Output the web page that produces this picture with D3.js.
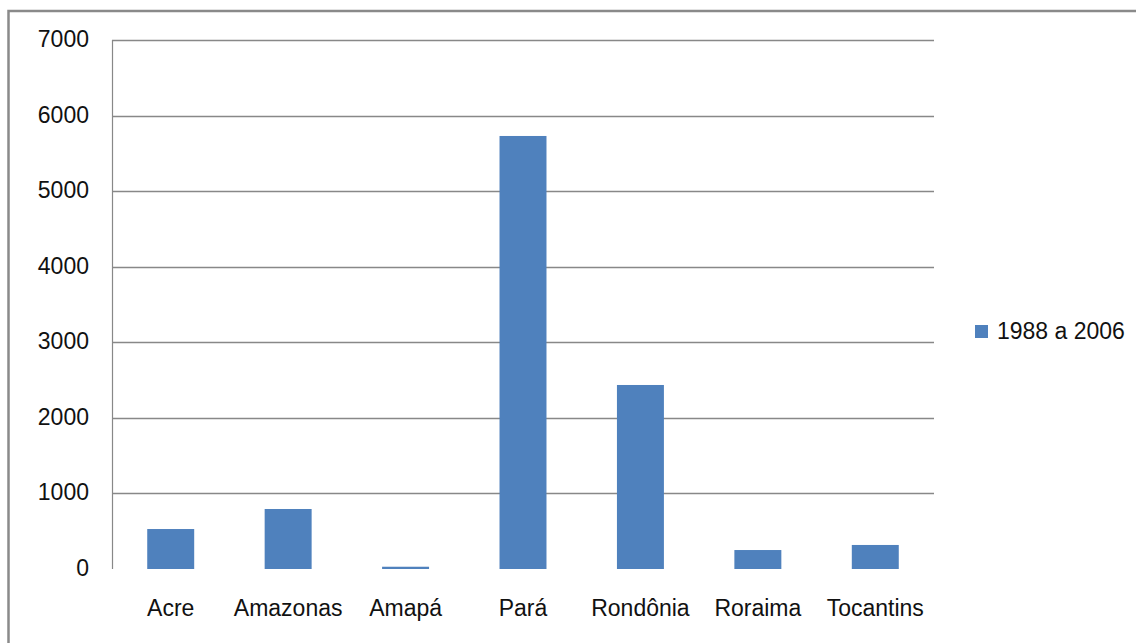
<!DOCTYPE html>
<html><head><meta charset="utf-8">
<script src="https://cdn.jsdelivr.net/npm/d3@7"></script>
<style>html,body{margin:0;padding:0;background:#fff;overflow:hidden}</style>
</head><body>
<svg id="c" width="1136" height="643"></svg>
<script>
const categories = ["Acre","Amazonas","Amapá","Pará","Rondônia","Roraima","Tocantins"];
const values = [529, 794, 30, 5730, 2435, 251, 318];
const seriesName = "1988 a 2006";
const yTicks = [0,1000,2000,3000,4000,5000,6000,7000];

(function(){
const svg = d3.select("#c");
const font = "'Liberation Sans', Arial, sans-serif";
const pLeft = 112, pRight = 934, pTop = 40, pBottom = 569;

// outer frame
svg.append("path").attr("d", `M8.5,660 L8.5,11 L1150,11`)
  .attr("fill","none").attr("stroke","#8a8a8a").attr("stroke-width",2.5);

const x = d3.scaleBand().domain(categories).range([pLeft,pRight]).paddingInner(0.6).paddingOuter(0.3);
const y = d3.scaleLinear().domain([0,7000]).range([pBottom,pTop]);

// gridlines (no zero line)
svg.append("g").selectAll("line").data(yTicks.filter(d=>d>0)).join("line")
  .attr("x1",pLeft).attr("x2",pRight)
  .attr("y1",d=>Math.round(y(d))+0.5).attr("y2",d=>Math.round(y(d))+0.5)
  .attr("stroke","#888").attr("stroke-width",1.5);

// y axis line
svg.append("line").attr("x1",pLeft+0.5).attr("x2",pLeft+0.5).attr("y1",pTop).attr("y2",pBottom)
  .attr("stroke","#888").attr("stroke-width",1.2);

// y tick labels
svg.append("g").selectAll("text").data(yTicks).join("text")
  .attr("x",89).attr("y",d=>y(d)-1).attr("dy","0.35em")
  .attr("text-anchor","end").attr("font-family",font).attr("font-size",23).attr("fill","#111")
  .text(d=>d);

// bars
svg.append("g").selectAll("rect").data(values).join("rect")
  .attr("x",(d,i)=>x(categories[i])).attr("width",x.bandwidth())
  .attr("y",d=>y(d)).attr("height",d=>pBottom-y(d))
  .attr("fill","#4F81BD");

// category labels
svg.append("g").selectAll("text").data(categories).join("text")
  .attr("x",d=>x(d)+x.bandwidth()/2).attr("y",616)
  .attr("text-anchor","middle").attr("font-family",font).attr("font-size",23).attr("fill","#111")
  .text(d=>d);

// legend
svg.append("rect").attr("x",975).attr("y",325).attr("width",13).attr("height",13).attr("fill","#4F81BD");
svg.append("text").attr("x",997).attr("y",331).attr("dy","0.35em")
  .attr("font-family",font).attr("font-size",23).attr("fill","#111").text(seriesName);
})();
</script>
</body></html>
